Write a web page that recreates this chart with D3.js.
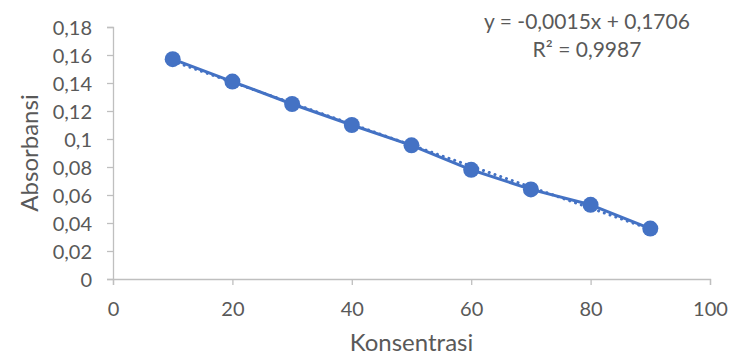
<!DOCTYPE html>
<html>
<head>
<meta charset="utf-8">
<script src="https://cdn.jsdelivr.net/npm/d3@7"></script>
<style>
  html, body { margin: 0; padding: 0; background: #fff; }
  svg text { font-family: Lato, "Open Sans", sans-serif; fill: #595959; }
</style>
</head>
<body>
<svg id="chart" width="733" height="356"></svg>
<script>
// Calibration data: concentration vs absorbance
const konsentrasi = [10, 20, 30, 40, 50, 60, 70, 80, 90];
const absorbansi = [0.157, 0.141, 0.125, 0.110, 0.0955, 0.078, 0.064, 0.053, 0.036];
const xTicks = [0, 20, 40, 60, 80, 100];
const yTicks = [0, 0.02, 0.04, 0.06, 0.08, 0.1, 0.12, 0.14, 0.16, 0.18];
const trendSlope = -0.0015;
const trendIntercept = 0.1706;
const equationLines = ["y = -0,0015x + 0,1706", "R\u00B2 = 0,9987"];

const svg = d3.select("#chart");
const margin = { left: 113, right: 23, top: 27, bottom: 77 };
const W = 733, H = 356;

const x = d3.scaleLinear().domain([0, 100]).range([margin.left, W - margin.right]);
const y = d3.scaleLinear().domain([0, 0.18]).range([H - margin.bottom, margin.top]);

const fmt = d => d3.format("~g")(d).replace(".", ",");
const axisColor = "#bfbfbf";

// Y axis
const gy = svg.append("g")
  .attr("transform", `translate(${margin.left},0)`)
  .call(d3.axisLeft(y).tickValues(yTicks).tickFormat(fmt).tickSize(6).tickPadding(15));
gy.select(".domain").attr("stroke", axisColor).attr("stroke-width", 1.3);
gy.selectAll(".tick line").attr("stroke", axisColor).attr("stroke-width", 1.3);
gy.selectAll(".tick text").style("font-size", "20px").attr("dy", "0.36em");

// X axis
const gx = svg.append("g")
  .attr("transform", `translate(0,${y(0)})`)
  .call(d3.axisBottom(x).tickValues(xTicks).tickFormat(fmt).tickSize(6).tickPadding(17));
gx.select(".domain").attr("stroke", axisColor).attr("stroke-width", 1.3);
gx.selectAll(".tick line").attr("stroke", axisColor).attr("stroke-width", 1.3);
gx.selectAll(".tick text").style("font-size", "20px");

// Axis titles
svg.append("text")
  .attr("x", (x(0) + x(100)) / 2)
  .attr("y", 351)
  .attr("text-anchor", "middle")
  .style("font-size", "24px")
  .text("Konsentrasi");

svg.append("text")
  .attr("transform", `translate(38,${(y(0) + y(0.18)) / 2}) rotate(-90)`)
  .attr("text-anchor", "middle")
  .style("font-size", "24px")
  .text("Absorbansi");

const blue = "#4472C4";
const pts = konsentrasi.map((k, i) => [k, absorbansi[i]]);

// Data line
svg.append("path")
  .datum(pts)
  .attr("fill", "none")
  .attr("stroke", blue)
  .attr("stroke-width", 3)
  .attr("stroke-linejoin", "round")
  .attr("d", d3.line().x(d => x(d[0])).y(d => y(d[1])));

// Linear trendline (dotted)
const tx = d3.extent(konsentrasi);
svg.append("path")
  .datum(tx.map(k => [k, trendSlope * k + trendIntercept]))
  .attr("fill", "none")
  .attr("stroke", blue)
  .attr("stroke-width", 3)
  .attr("stroke-dasharray", "0.1 6")
  .attr("stroke-linecap", "round")
  .attr("d", d3.line().x(d => x(d[0])).y(d => y(d[1])));

// Markers
svg.selectAll("circle.pt")
  .data(pts)
  .join("circle")
  .attr("class", "pt")
  .attr("cx", d => x(d[0]))
  .attr("cy", d => y(d[1]))
  .attr("r", 8)
  .attr("fill", blue);

// Trendline equation
svg.append("g").selectAll("text")
  .data(equationLines)
  .join("text")
  .attr("x", 587)
  .attr("y", (d, i) => 29 + i * 28)
  .attr("text-anchor", "middle")
  .style("font-size", "21px")
  .text(d => d);
</script>
</body>
</html>
